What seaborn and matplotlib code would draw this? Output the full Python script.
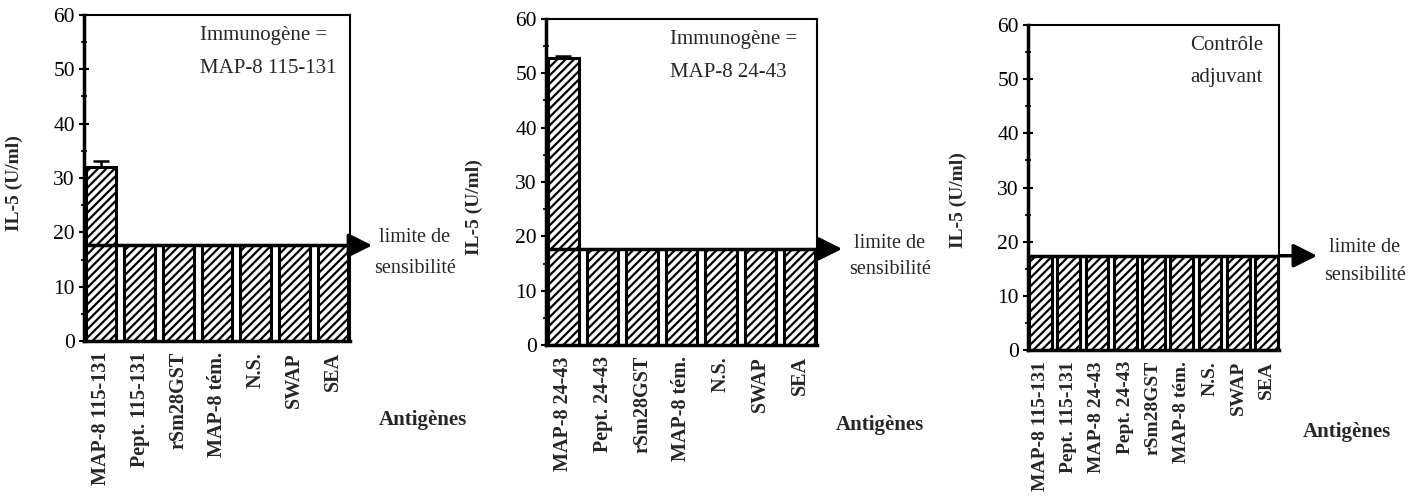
import matplotlib
matplotlib.use("Agg")
import matplotlib.pyplot as plt
import seaborn as sns
import numpy as np

# ---- data ----
cats1 = ["MAP-8 115-131", "Pept. 115-131", "rSm28GST", "MAP-8 tém.", "N.S.", "SWAP", "SEA"]
vals1 = [32.1, 17.6, 17.6, 17.6, 17.6, 17.6, 17.6]
err1 = [1.1, 0, 0, 0, 0, 0, 0]

cats2 = ["MAP-8 24-43", "Pept. 24-43", "rSm28GST", "MAP-8 tém.", "N.S.", "SWAP", "SEA"]
vals2 = [52.8, 17.7, 17.7, 17.7, 17.7, 17.7, 17.7]
err2 = [0.4, 0, 0, 0, 0, 0, 0]

cats3 = ["MAP-8 115-131", "Pept. 115-131", "MAP-8 24-43", "Pept. 24-43", "rSm28GST",
         "MAP-8 tém.", "N.S.", "SWAP", "SEA"]
vals3 = [17.4, 17.4, 17.4, 17.4, 17.4, 17.4, 17.4, 17.4, 17.4]
err3 = [0, 0, 0, 0, 0, 0, 0, 0, 0]

limits = [17.6, 17.7, 17.4]
notes = [("Immunogène =", "MAP-8 115-131"), ("Immunogène =", "MAP-8 24-43"), ("Contrôle", "adjuvant")]
yticks = [0, 10, 20, 30, 40, 50, 60]

sns.set_theme(style="white")
plt.rcParams["font.family"] = ["Liberation Serif", "DejaVu Serif"]
plt.rcParams["hatch.linewidth"] = 1.6
plt.rcParams["hatch.color"] = "black"

W, H = 1415, 498
fig = plt.figure(figsize=(W / 100, H / 100), dpi=100)

# axes boxes in pixels: left, right, top, bottom
boxes = [(84, 350, 15, 341), (546, 817, 19, 345), (1028, 1279, 25, 350)]
note_pos = [(0.436, "left"), (0.458, "left"), (0.79, "center")]
arrow_tip = [1.094, 1.103, 1.163]
ylab_pos = [(-0.23, 0.485), (-0.232, 0.423), (-0.243, 0.46)]
limtext_x = [415, 890, 1365]
limtext_y = [(237, 268), (243, 270), (247, 275)]
antig = [(423, 420), (880, 425), (1347, 432)]

datasets = [(cats1, vals1, err1), (cats2, vals2, err2), (cats3, vals3, err3)]

for i, ((cats, vals, errs), (l, r, t, b)) in enumerate(zip(datasets, boxes)):
    ax = fig.add_axes([l / W, 1 - b / H, (r - l) / W, (b - t) / H])
    sns.barplot(x=cats, y=vals, order=cats, ax=ax, color="white", saturation=1,
                edgecolor="black", linewidth=2.2, width=0.8, errorbar=None)
    for p in ax.patches:
        p.set_hatch("////")
    # error bars (upward only) on bars with error
    for p, e, v in zip(ax.patches, errs, vals):
        if e > 0:
            cx = p.get_x() + p.get_width() / 2
            ax.errorbar([cx], [v], yerr=[[0], [e]], fmt="none", ecolor="black",
                        elinewidth=1.8, capsize=6, capthick=1.8)
    n = len(cats)
    ax.set_xlim(-0.44, n - 0.56)
    ax.set_ylim(0, 60)
    ax.set_yticks(yticks)
    ax.set_yticks(np.arange(5, 60, 10), minor=True)
    ax.tick_params(axis="y", which="major", direction="inout", length=7, width=1.5,
                   labelsize=15.5, pad=3, left=True, colors="black")
    ax.tick_params(axis="y", which="minor", direction="inout", length=4, width=1.5, left=True)
    ax.tick_params(axis="x", length=0, pad=8)
    for lab in ax.get_xticklabels():
        lab.set_rotation(90)
        lab.set_fontweight("bold")
        lab.set_fontsize(14.5 if n == 7 else 14)
    for s in ["top", "right"]:
        ax.spines[s].set_linewidth(1.5)
        ax.spines[s].set_color("black")
    for s in ["left", "bottom"]:
        ax.spines[s].set_linewidth(2.5)
        ax.spines[s].set_color("black")
    ax.set_ylabel("IL-5 (U/ml)", fontsize=14, fontweight="bold")
    ax.yaxis.set_label_coords(*ylab_pos[i])
    ax.set_xlabel("")
    # sensitivity limit line + arrow
    lim = limits[i]
    ax.axhline(lim, color="black", lw=2.5, zorder=5)
    ax.annotate("", xy=(arrow_tip[i], lim), xytext=(0.99, lim),
                xycoords=("axes fraction", "data"), textcoords=("axes fraction", "data"),
                arrowprops=dict(arrowstyle="-|>", color="black", lw=2.5, mutation_scale=36),
                annotation_clip=False)
    # note text
    nx, ha = note_pos[i]
    ax.text(nx, 0.938, notes[i][0], transform=ax.transAxes, fontsize=15, ha=ha, va="center")
    ax.text(nx, 0.837, notes[i][1], transform=ax.transAxes, fontsize=15, ha=ha, va="center")
    # right-side labels
    fig.text(limtext_x[i] / W, 1 - limtext_y[i][0] / H, "limite de", fontsize=14.5, ha="center", va="center")
    fig.text(limtext_x[i] / W, 1 - limtext_y[i][1] / H, "sensibilité", fontsize=14.5, ha="center", va="center")
    fig.text(antig[i][0] / W, 1 - antig[i][1] / H, "Antigènes", fontsize=15, fontweight="bold",
             ha="center", va="center")

fig.savefig("out.png", dpi=100, facecolor="white")
